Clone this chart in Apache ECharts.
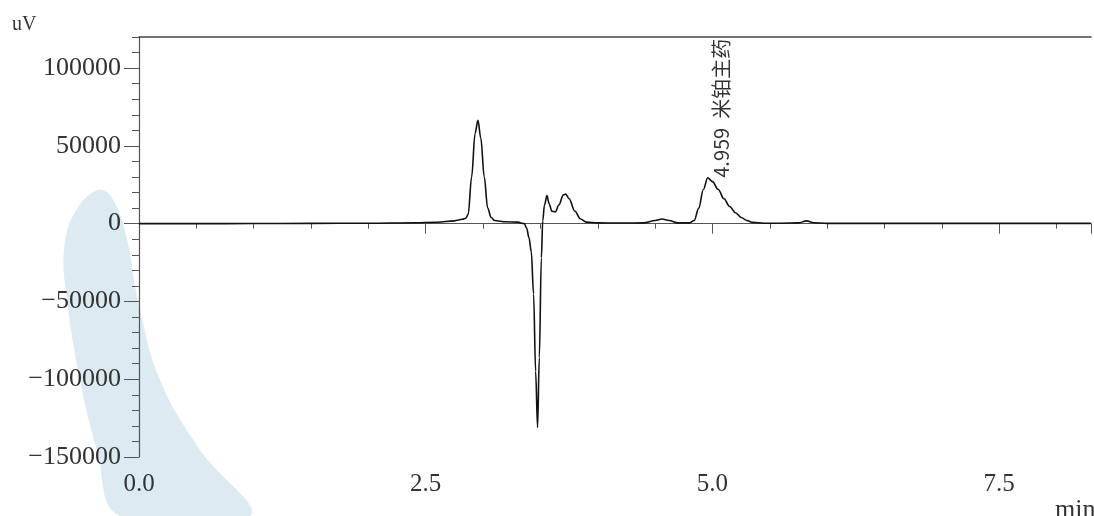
<!DOCTYPE html>
<html>
<head>
<meta charset="utf-8">
<script src="https://cdn.jsdelivr.net/npm/echarts@6/dist/echarts.min.js"></script>
<style>html,body{margin:0;padding:0;background:#fff;overflow:hidden}#c{width:1094px;height:516px}</style>
</head>
<body>
<div id="c"></div>
<script>
// retention time (min)
var times = [0, 0.5, 1.0, 1.5, 2.0, 2.4, 2.6, 2.75, 2.82, 2.85, 2.87, 2.90, 2.93, 2.955, 2.98, 3.01, 3.04, 3.07, 3.10, 3.2, 3.3,
  3.36, 3.38, 3.40, 3.42, 3.44, 3.458, 3.475, 3.49, 3.508, 3.52, 3.535, 3.557, 3.575, 3.60, 3.63, 3.66, 3.70, 3.72, 3.75, 3.80, 3.85, 3.90,
  4.0, 4.2, 4.4, 4.5, 4.56, 4.62, 4.70, 4.80, 4.84, 4.88, 4.92, 4.959, 5.0, 5.05, 5.10, 5.15, 5.20, 5.25, 5.30, 5.35, 5.45, 5.6,
  5.75, 5.82, 5.88, 6.0, 7.0, 8.3];
// detector signal (uV)
var signal = [0, 0, 100, 200, 300, 600, 900, 1800, 2800, 3500, 6000, 30000, 58000, 66500, 55000, 30000, 10000, 4000, 2000, 1200, 1000,
  0, -3000, -9000, -18000, -45000, -95000, -131000, -86000, -22000, 2000, 12000, 18000, 13000, 8000, 7500, 12000, 18500, 19000, 16000, 8000, 3000, 1000,
  500, 400, 500, 2000, 3000, 2000, 500, 500, 2000, 10000, 22000, 29500, 27000, 22000, 16000, 11000, 7000, 4000, 2000, 800, 300, 300,
  500, 1800, 600, 200, 200, 200];
var yTicks = [-150000, -100000, -50000, 0, 50000, 100000];
var xTicks = ['0.0', '2.5', '5.0', '7.5'];
var peakTime = 4.959, peakValue = 29500, peakName = '米铂主药';

var data = times.map(function (t, i) { return [t, signal[i]]; });
var font = 'Liberation Serif';
var axisCol = '#555';
var chart = echarts.init(document.getElementById('c'));
chart.setOption({
  animation: false,
  grid: { left: 139, right: -2, top: 37, bottom: 59 },
  xAxis: [
    { type: 'value', min: 0, max: 8.3, interval: 0.5, position: 'bottom',
      axisLine: { show: true, lineStyle: { color: axisCol, width: 1.2 } },
      axisTick: { show: true, length: 5, lineStyle: { color: axisCol } },
      axisLabel: { show: false }, splitLine: { show: false } },
    { type: 'value', min: 0, max: 8.3, interval: 2.5, position: 'bottom',
      axisLine: { show: false },
      axisTick: { show: true, length: 10, lineStyle: { color: axisCol } },
      axisLabel: { show: true, margin: 15, color: '#333', fontFamily: font, fontSize: 25,
        formatter: function (v) { var k = Math.round(v / 2.5); return Math.abs(v - k * 2.5) < 1e-6 ? xTicks[k] : ''; } },
      splitLine: { show: false } },
    { type: 'value', min: 0, max: 8.3, position: 'top',
      axisLine: { show: true, lineStyle: { color: '#444', width: 1.6 } },
      axisTick: { show: false }, axisLabel: { show: false }, splitLine: { show: false } }
  ],
  yAxis: [
    { type: 'value', min: -150000, max: 120000, interval: 10000, position: 'left',
      axisLine: { show: true, lineStyle: { color: axisCol, width: 1.2 } },
      axisTick: { show: true, length: 7, lineStyle: { color: axisCol } },
      axisLabel: { show: false }, splitLine: { show: false } },
    { type: 'value', min: -150000, max: 120000, interval: 50000, position: 'left',
      axisLine: { show: false },
      axisTick: { show: true, length: 15, lineStyle: { color: axisCol } },
      axisLabel: { show: true, margin: 18, color: '#333', fontFamily: font, fontSize: 26, showMaxLabel: false,
        formatter: function (v) { return yTicks.indexOf(v) >= 0 ? String(v).replace('-', '\u2212') : ''; } },
      splitLine: { show: false } }
  ],
  graphic: [
    { type: 'polygon', z: -10, silent: true,
      shape: { points: [[98,190],[112,198],[126,235],[138,300],[160,380],[200,450],[250,516],[120,516],[97,450],[80,380],[67,300],[64,250],[75,212]], smooth: 0.4 },
      style: { fill: '#dcebf2' } },
    { type: 'text', left: 12, top: 15, style: { text: 'uV', font: '20px "Liberation Serif"', fill: '#333' } },
    { type: 'text', left: 1055, top: 497, style: { text: 'min', font: '26px "Liberation Serif"', fill: '#333' } }
  ],
  series: [{
    type: 'line', xAxisIndex: 0, yAxisIndex: 0, data: data, showSymbol: false, smooth: 0.35, smoothMonotone: 'x',
    lineStyle: { color: '#111', width: 1.6 },
    markPoint: {
      symbol: 'circle', symbolSize: 0,
      data: [{ coord: [peakTime, peakValue] }],
      label: { show: true, position: 'inside', rotate: 90, align: 'left', verticalAlign: 'middle', offset: [0, 14],
        formatter: peakTime.toFixed(3) + '  ' + peakName, fontFamily: 'Noto Sans CJK SC', fontSize: 20, color: '#333' }
    }
  }]
});
</script>
</body>
</html>
